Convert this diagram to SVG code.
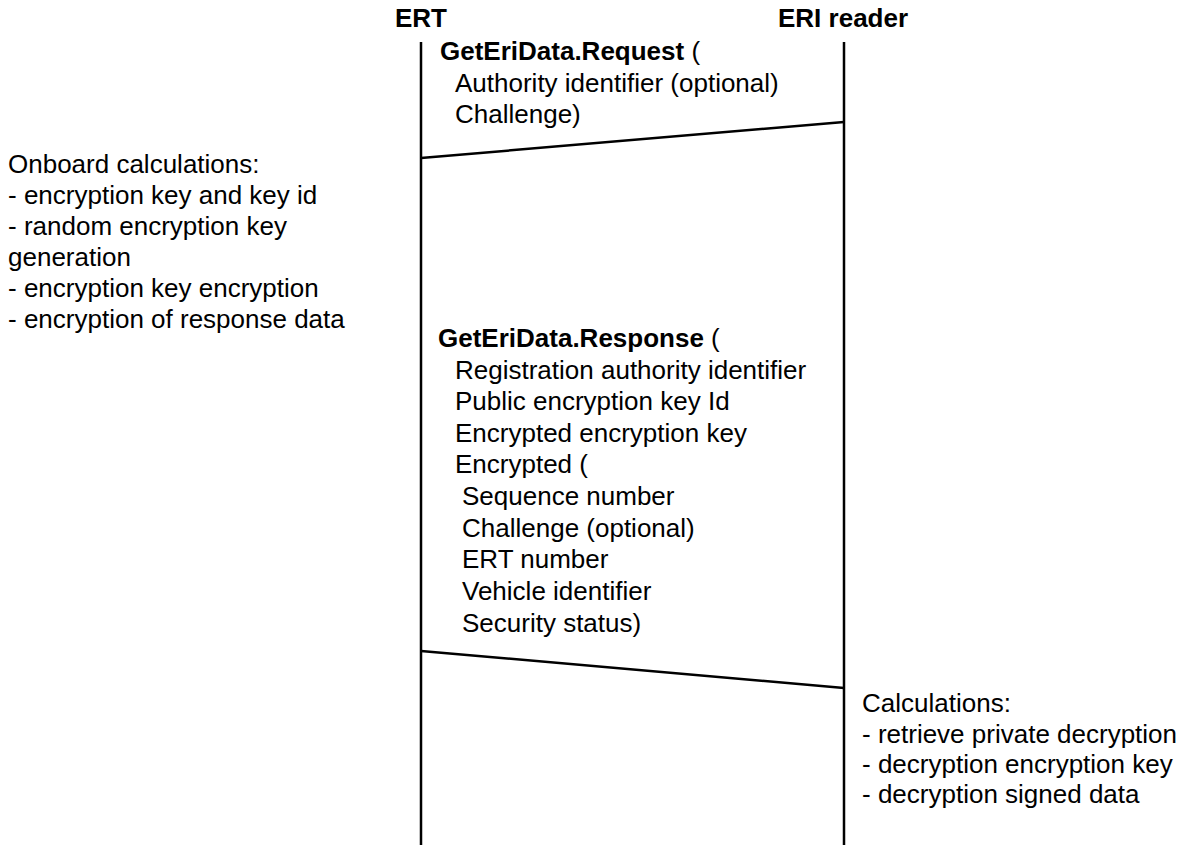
<svg xmlns="http://www.w3.org/2000/svg" width="1185" height="845" viewBox="0 0 1185 845">
  <style>
    text { font-family: "Liberation Sans", Arial, sans-serif; font-size: 26px; fill: #000; }
    .b { font-weight: bold; }
    .life { stroke: #000; stroke-width: 2.5; fill: none; }
    .msg { stroke: #000; stroke-width: 2.5; fill: none; }
  </style>
  <rect width="1185" height="845" fill="#fff"/>

  <!-- ERT lifeline -->
  <g id="ert">
    <text class="b" x="395" y="27">ERT</text>
    <line class="life" x1="421" y1="42" x2="421" y2="845"/>
  </g>

  <!-- ERI reader lifeline -->
  <g id="eri-reader">
    <text class="b" x="778" y="27">ERI reader</text>
    <line class="life" x1="844" y1="42" x2="844" y2="845"/>
  </g>

  <!-- Message exchanges -->
  <g id="connectors">
    <line class="msg" x1="844" y1="122" x2="421" y2="158"/>
    <line class="msg" x1="421" y1="651" x2="844" y2="688"/>
  </g>

  <!-- Request message label -->
  <g id="request-label">
    <text x="440" y="60"><tspan class="b">GetEriData.Request</tspan> (</text>
    <text x="455" y="92">Authority identifier (optional)</text>
    <text x="455" y="123">Challenge)</text>
  </g>

  <!-- Onboard calculations note -->
  <g id="onboard-note">
    <text x="8" y="173">Onboard calculations:</text>
    <text x="8" y="204">- encryption key and key id</text>
    <text x="8" y="235">- random encryption key</text>
    <text x="8" y="266">generation</text>
    <text x="8" y="297">- encryption key encryption</text>
    <text x="8" y="328">- encryption of response data</text>
  </g>

  <!-- Response message label -->
  <g id="response-label">
    <text x="438" y="347"><tspan class="b">GetEriData.Response</tspan> (</text>
    <text x="455" y="379">Registration authority identifier</text>
    <text x="455" y="410">Public encryption key Id</text>
    <text x="455" y="442">Encrypted encryption key</text>
    <text x="455" y="473">Encrypted (</text>
    <text x="462" y="505">Sequence number</text>
    <text x="462" y="537">Challenge (optional)</text>
    <text x="462" y="568">ERT number</text>
    <text x="462" y="600">Vehicle identifier</text>
    <text x="462" y="632">Security status)</text>
  </g>

  <!-- Reader-side calculations note -->
  <g id="reader-note">
    <text x="862" y="712">Calculations:</text>
    <text x="862" y="743">- retrieve private decryption</text>
    <text x="862" y="773">- decryption encryption key</text>
    <text x="862" y="803">- decryption signed data</text>
  </g>
</svg>
